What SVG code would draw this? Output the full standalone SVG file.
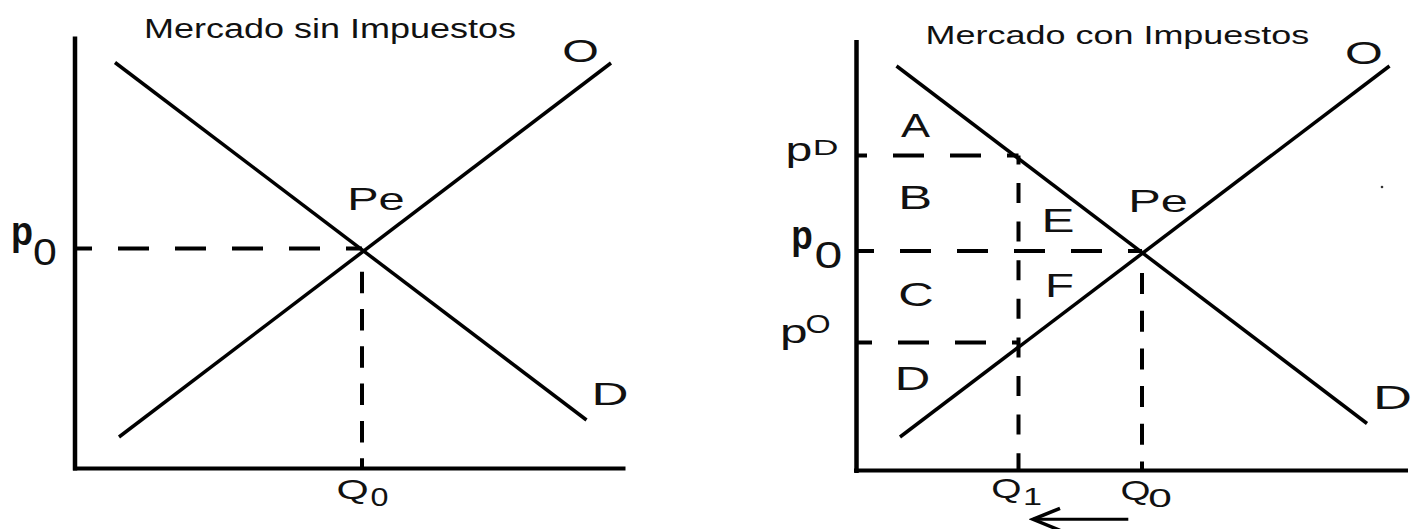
<svg xmlns="http://www.w3.org/2000/svg" width="1415" height="529" viewBox="0 0 1415 529">
  <style>
    .axis { stroke: #000; stroke-width: 4.5; fill: none; }
    .curve { stroke: #000; stroke-width: 3.5; fill: none; }
    .dash-h { stroke: #000; stroke-width: 4; fill: none; stroke-dasharray: 31 26; }
    .dash-v { stroke: #000; stroke-width: 4; fill: none; stroke-dasharray: 21 16.5; }
    .arrow { stroke: #000; stroke-width: 3; fill: none; }
    text { font-family: "Liberation Sans", Arial, sans-serif; fill: #111; }
    .lbl { text-anchor: middle; }
    .pbold { font-weight: bold; }
  </style>
  <defs>
    <marker id="arrowOpen" markerUnits="userSpaceOnUse" viewBox="-32 -15 36 30" refX="0" refY="0" markerWidth="36" markerHeight="30" orient="auto">
      <path d="M-27,-11 L0,0 L-27,11" fill="none" stroke="#000" stroke-width="3.5"/>
    </marker>
  </defs>

  <rect width="1415" height="529" fill="#fff"/>

  <!-- LEFT: Mercado sin Impuestos -->
  <g id="left-chart">
    <text id="left-title" x="144" y="38" font-size="27" textLength="372" lengthAdjust="spacingAndGlyphs">Mercado sin Impuestos</text>
    <g id="left-axes">
      <line class="axis" x1="75" y1="36.5" x2="75" y2="470.5"/>
      <line class="axis" x1="73" y1="468.5" x2="625.5" y2="468.5" style="stroke-width:4"/>
    </g>
    <g id="left-connectors">
      <line id="left-demand" class="curve" x1="115" y1="62.5" x2="586.5" y2="420"/>
      <line id="left-supply" class="curve" x1="119" y1="437" x2="611" y2="63"/>
      <line class="dash-h" x1="75" y1="248.5" x2="362" y2="248.5" stroke-dashoffset="14"/>
      <line class="dash-v" x1="362" y1="271.7" x2="362" y2="468" style="stroke-dasharray:21.5 15.8"/>
    </g>
    <g id="left-labels">
      <text class="lbl" x="580.5" y="61.5" font-size="31" textLength="36.6" lengthAdjust="spacingAndGlyphs">O</text>
      <text class="lbl" x="610" y="405" font-size="31" textLength="37" lengthAdjust="spacingAndGlyphs">D</text>
      <text class="lbl" x="376" y="209.5" font-size="32" textLength="57.5" lengthAdjust="spacingAndGlyphs">Pe</text>
      <text class="lbl pbold" x="22" y="245" font-size="40" textLength="22" lengthAdjust="spacingAndGlyphs">p</text>
      <text class="lbl" x="45" y="265" font-size="36" textLength="23.8" lengthAdjust="spacingAndGlyphs">0</text>
      <text class="lbl" x="352.5" y="499" font-size="28" textLength="32.2" lengthAdjust="spacingAndGlyphs">Q</text>
      <text class="lbl" x="379.5" y="505.5" font-size="26" textLength="18" lengthAdjust="spacingAndGlyphs">0</text>
    </g>
  </g>

  <!-- RIGHT: Mercado con Impuestos -->
  <g id="right-chart">
    <text id="right-title" x="925.6" y="44" font-size="26" textLength="383.7" lengthAdjust="spacingAndGlyphs">Mercado con Impuestos</text>
    <g id="right-axes">
      <line class="axis" x1="856.5" y1="40" x2="856.5" y2="473"/>
      <line class="axis" x1="854" y1="470.5" x2="1408" y2="470.5" style="stroke-width:4"/>
    </g>
    <g id="right-connectors">
      <line id="right-demand" class="curve" x1="896.5" y1="66" x2="1367" y2="423.5"/>
      <line id="right-supply" class="curve" x1="900" y1="437" x2="1389.5" y2="66"/>
      <line class="dash-h" x1="856" y1="155.5" x2="1018.5" y2="155.5" stroke-dashoffset="20"/>
      <line class="dash-h" x1="856" y1="251" x2="1142" y2="251" stroke-dashoffset="13"/>
      <line class="dash-h" x1="856" y1="342.5" x2="1018.5" y2="342.5" stroke-dashoffset="15"/>
      <line class="dash-v" x1="1018.5" y1="155.5" x2="1018.5" y2="470" style="stroke-dasharray:20 18.6" stroke-dashoffset="11.1"/>
      <line class="dash-v" x1="1142" y1="273" x2="1142" y2="470" style="stroke-dasharray:21 16.7"/>
      <line id="quantity-arrow" class="arrow" x1="1128.3" y1="519.3" x2="1033" y2="519.3" marker-end="url(#arrowOpen)"/>
    </g>
    <g id="right-labels">
      <text class="lbl" x="1364" y="63.5" font-size="31" textLength="37.8" lengthAdjust="spacingAndGlyphs">O</text>
      <text class="lbl" x="1392.6" y="409" font-size="33" textLength="39" lengthAdjust="spacingAndGlyphs">D</text>
      <text class="lbl" x="1158" y="212" font-size="32" textLength="59.7" lengthAdjust="spacingAndGlyphs">Pe</text>
      <text class="lbl" x="915.5" y="136.5" font-size="33" textLength="29" lengthAdjust="spacingAndGlyphs">A</text>
      <text class="lbl" x="915.2" y="208.5" font-size="33" textLength="33.9" lengthAdjust="spacingAndGlyphs">B</text>
      <text class="lbl" x="916" y="306" font-size="33" textLength="35.5" lengthAdjust="spacingAndGlyphs">C</text>
      <text class="lbl" x="912.5" y="390" font-size="33" textLength="35.5" lengthAdjust="spacingAndGlyphs">D</text>
      <text class="lbl" x="1058" y="232" font-size="33" textLength="33" lengthAdjust="spacingAndGlyphs">E</text>
      <text class="lbl" x="1059.5" y="296.5" font-size="33" textLength="29" lengthAdjust="spacingAndGlyphs">F</text>
      <text class="lbl" x="799" y="161" font-size="34" textLength="26.8" lengthAdjust="spacingAndGlyphs">p</text>
      <text class="lbl" x="825.5" y="155" font-size="22" textLength="25.7" lengthAdjust="spacingAndGlyphs">D</text>
      <text class="lbl pbold" x="802" y="249" font-size="40" textLength="21.5" lengthAdjust="spacingAndGlyphs">p</text>
      <text class="lbl" x="828.3" y="268" font-size="37" textLength="27.8" lengthAdjust="spacingAndGlyphs">0</text>
      <text class="lbl" x="793.8" y="343" font-size="34" textLength="27.6" lengthAdjust="spacingAndGlyphs">p</text>
      <text class="lbl" x="818" y="333" font-size="25" textLength="25.1" lengthAdjust="spacingAndGlyphs">O</text>
      <text class="lbl" x="1006.4" y="498" font-size="28" textLength="30.3" lengthAdjust="spacingAndGlyphs">Q</text>
      <text class="lbl" x="1032.5" y="505" font-size="23" textLength="19" lengthAdjust="spacingAndGlyphs">1</text>
      <text class="lbl" x="1135.5" y="500" font-size="28" textLength="30" lengthAdjust="spacingAndGlyphs">Q</text>
      <text class="lbl" x="1160" y="506.5" font-size="26.5" textLength="23.6" lengthAdjust="spacingAndGlyphs">0</text>
    </g>
    <circle id="stray-dot" cx="1382" cy="187" r="1.3" fill="#333"/>
  </g>
</svg>
